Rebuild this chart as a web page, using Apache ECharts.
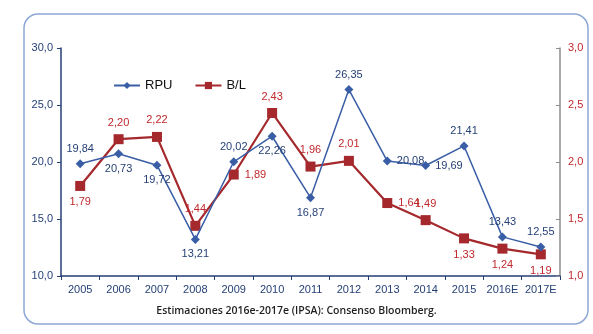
<!DOCTYPE html>
<html><head><meta charset="utf-8">
<script src="https://cdn.jsdelivr.net/npm/echarts@6/dist/echarts.min.js"></script>
<style>html,body{margin:0;padding:0;background:#fff}#c{width:593px;height:334px}</style>
</head><body><div id="c"></div>
<script>
const categories = ['2005','2006','2007','2008','2009','2010','2011','2012','2013','2014','2015','2016E','2017E'];
const rpu = [19.84,20.73,19.72,13.21,20.02,22.26,16.87,26.35,20.08,19.69,21.41,13.43,12.55];
const bl = [1.79,2.20,2.22,1.44,1.89,2.43,1.96,2.01,1.64,1.49,1.33,1.24,1.19];
const leftTicks = [10,15,20,25,30];
const rightTicks = [1.0,1.5,2.0,2.5,3.0];
const rpuLabelPos = ['top','bottom','bottom','bottom','top','bottom','bottom','top','right','right','top','top','top'];
const blLabelPos = ['bottom','top','top','top','right','top','top','top','right','top','bottom','bottom','bottom'];
const caption = 'Estimaciones 2016e-2017e (IPSA): Consenso Bloomberg.';

const fmt = (v,d)=>v.toFixed(d).replace('.',',');
const chart = echarts.init(document.getElementById('c'));
chart.setOption({
  animation:false,
  textStyle:{fontFamily:'Liberation Sans, Arial, sans-serif'},
  graphic:[
    {type:'rect',shape:{x:24,y:14,width:564,height:310,r:14},style:{fill:'none',stroke:'#8ea7d6',lineWidth:1.5},z:-1},
    {type:'text',left:'center',top:306,style:{text:caption,fill:'#1f1f1f',font:'600 10.5px "Open Sans", sans-serif'}}
  ],
  legend:{left:108,top:74,itemGap:22,itemWidth:26,itemHeight:9,
    textStyle:{fontSize:13,color:'#111'},
    data:['RPU','B/L']},
  grid:{left:61,right:33,top:48,bottom:58},
  xAxis:{type:'category',data:categories,boundaryGap:true,
    axisLine:{lineStyle:{color:'#243f75',width:1.5}},
    axisTick:{show:true,length:4,lineStyle:{color:'#243f75'}},
    axisLabel:{color:'#243f75',fontSize:11,margin:8,interval:0}},
  yAxis:[
    {type:'value',min:10,max:30,interval:5,position:'left',
      axisLine:{show:true,lineStyle:{color:'#243f75',width:1.5}},
      axisTick:{show:true,length:4,lineStyle:{color:'#243f75'}},
      splitLine:{show:false},
      axisLabel:{color:'#243f75',fontSize:11,margin:8,formatter:v=>fmt(v,1)}},
    {type:'value',min:1,max:3,interval:0.5,position:'right',
      axisLine:{show:true,lineStyle:{color:'#8c8c8c',width:1.5}},
      axisTick:{show:true,inside:true,length:4,lineStyle:{color:'#8c8c8c'}},
      splitLine:{show:false},
      axisLabel:{color:'#c0282c',fontSize:11,margin:8,formatter:v=>fmt(v,1)}}
  ],
  series:[
    {name:'RPU',type:'line',yAxisIndex:0,symbol:'diamond',symbolSize:9,
      itemStyle:{color:'#3a5ea6'},lineStyle:{color:'#3a5ea6',width:1.5},
      data:rpu.map((v,i)=>({value:v,label:{position:rpuLabelPos[i]}})),
      label:{show:true,color:'#243f75',fontSize:11,distance:5,formatter:p=>fmt(p.value,2)},z:3},
    {name:'B/L',type:'line',yAxisIndex:1,symbol:'rect',symbolSize:10,
      itemStyle:{color:'#a4282c'},lineStyle:{color:'#a4282c',width:2.2},
      data:bl.map((v,i)=>({value:v,label:{position:blLabelPos[i]}})),
      label:{show:true,color:'#c0282c',fontSize:11,distance:6,formatter:p=>fmt(p.value,2)},z:2}
  ]
});
</script></body></html>
